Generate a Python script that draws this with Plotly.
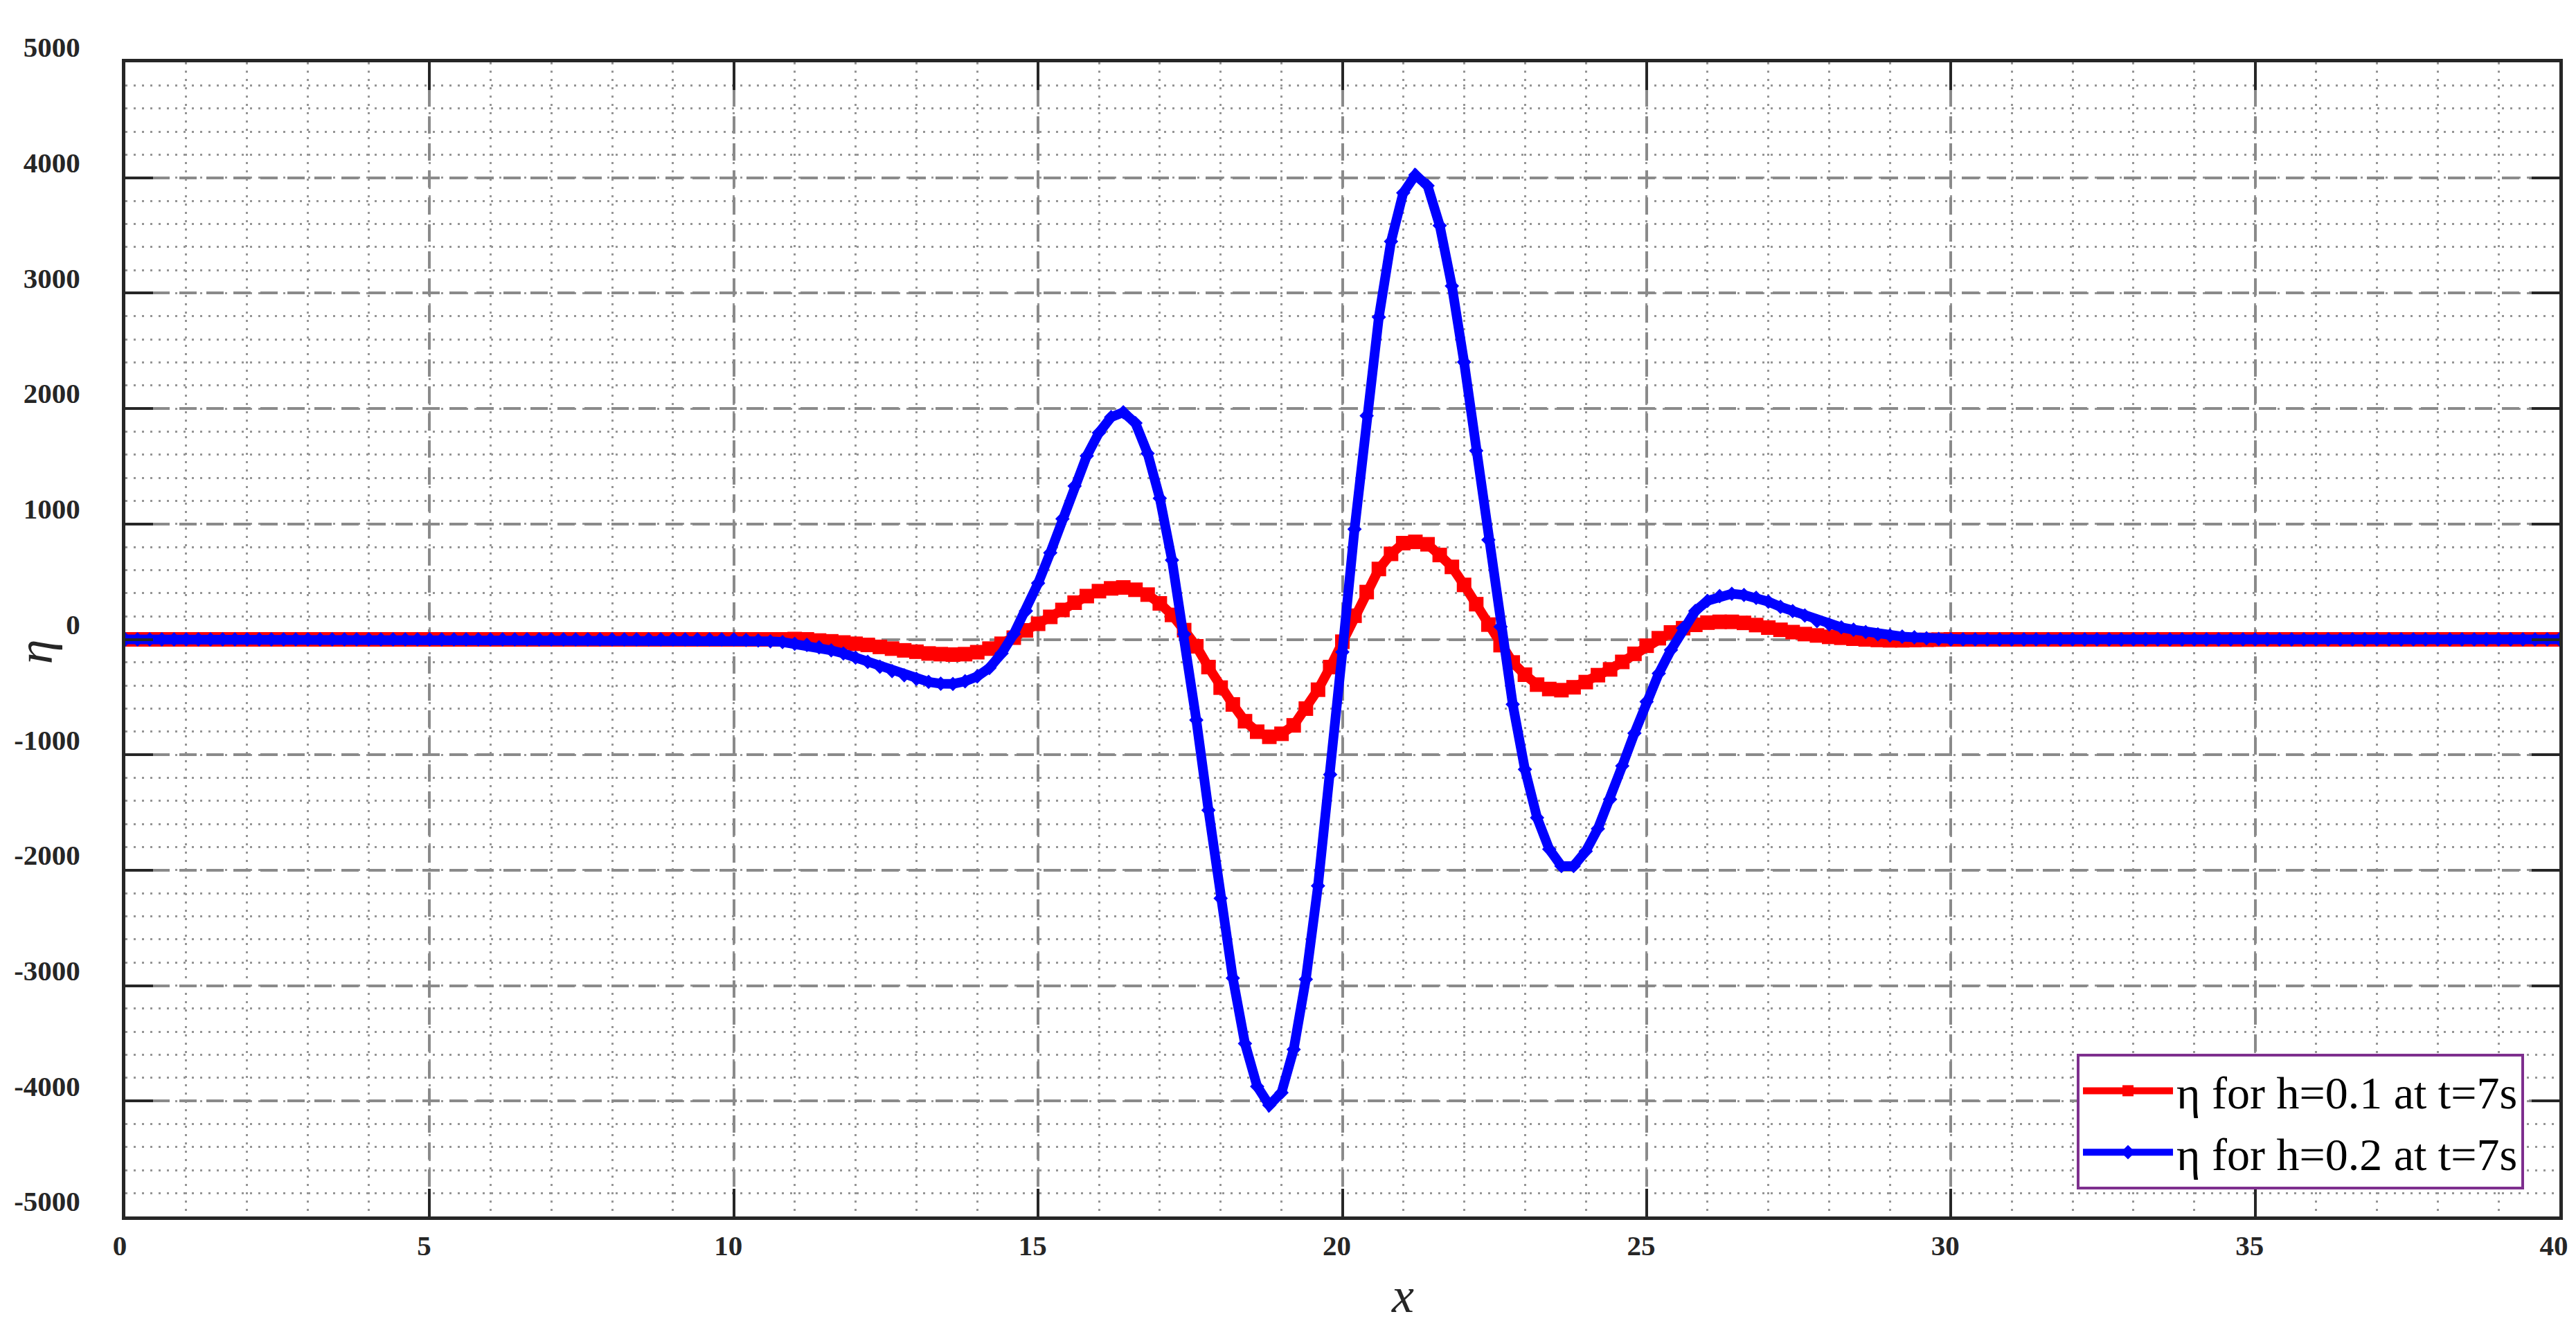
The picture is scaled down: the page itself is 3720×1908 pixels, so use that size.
import plotly.graph_objects as go

# sample positions along x (dx = 0.2, 0..40)
x = [round(0.2 * i, 1) for i in range(201)]

# flat parts of both curves, x = 0.0..9.8 and x = 30.0..40.0
flat_left = [0, 0, 0, 0, 0, 0, 0, 0, 0, 0,
             0, 0, 0, 0, 0, 0, 0, 0, 0, 0,
             0, 0, 0, 0, 0, 0, 0, 0, 0, 0,
             0, 0, 0, 0, 0, 0, 0, 0, 0, 0,
             0, 0, 0, 0, 0, 0, 0, 0, 0, 0]
flat_right = [0, 0, 0, 0, 0, 0, 0, 0, 0, 0,
              0, 0, 0, 0, 0, 0, 0, 0, 0, 0,
              0, 0, 0, 0, 0, 0, 0, 0, 0, 0,
              0, 0, 0, 0, 0, 0, 0, 0, 0, 0,
              0, 0, 0, 0, 0, 0, 0, 0, 0, 0, 0]

# eta for h=0.1, x = 10.0..29.8
eta_h01_mid = [0, 0, 0, 0, 0,
               3, 0, -10, -17, -27,
               -38, -48, -65, -80, -95,
               -107, -122, -128, -132, -128,
               -111, -80, -38, 15, 78,
               135, 195, 255, 318, 375,
               418, 442, 450, 430, 388,
               312, 212, 80, -60, -240,
               -418, -564, -709, -800, -844,
               -818, -745, -600, -436, -240,
               -20, 205, 410, 610, 741,
               834, 845, 824, 731, 628,
               472, 305, 128, -50, -200,
               -306, -392, -430, -440, -415,
               -370, -310, -260, -195, -125,
               -55, 10, 60, 97, 126,
               145, 152, 152, 143, 124,
               102, 83, 63, 46, 34,
               22, 14, 6, 0, -5,
               -8, -8, -6, -4, -2]

# eta for h=0.2, x = 10.0..29.8
eta_h02_mid = [0, -5, -10, -17, -23,
               -38, -48, -69, -95, -122,
               -158, -195, -237, -275, -311,
               -342, -368, -384, -386, -363,
               -321, -248, -122, 46, 246,
               487, 750, 1044, 1328, 1590,
               1790, 1926, 1968, 1874, 1611,
               1223, 687, 45, -699, -1480,
               -2244, -2935, -3502, -3873, -4036,
               -3927, -3553, -2945, -2135, -1171,
               -110, 955, 1938, 2793, 3448,
               3869, 4024, 3931, 3586, 3062,
               2403, 1634, 862, 110, -563,
               -1127, -1545, -1818, -1964, -1964,
               -1836, -1640, -1386, -1096, -813,
               -540, -295, -92, 98, 246,
               334, 375, 395, 385, 360,
               327, 282, 245, 207, 158,
               130, 104, 84, 64, 44,
               34, 24, 18, 10, 4]

eta_h01 = flat_left + eta_h01_mid + flat_right
eta_h02 = flat_left + eta_h02_mid + flat_right

names = ["η for h=0.1 at t=7s", "η for h=0.2 at t=7s"]
x_ticks = [0, 5, 10, 15, 20, 25, 30, 35, 40]
y_ticks = [-5000, -4000, -3000, -2000, -1000, 0, 1000, 2000, 3000, 4000, 5000]

fig = go.Figure()
fig.add_trace(go.Scatter(
    x=x, y=eta_h01, name=names[0], mode="lines+markers",
    line=dict(color="#ff0000", width=14),
    marker=dict(symbol="square", size=21, color="#ff0000"),
))
fig.add_trace(go.Scatter(
    x=x, y=eta_h02, name=names[1], mode="lines+markers",
    line=dict(color="#0000ff", width=14),
    marker=dict(symbol="diamond", size=16, color="#0000ff"),
))

axis_common = dict(
    showline=True, linecolor="#262626", linewidth=5, mirror="ticks",
    ticks="inside", ticklen=40, tickwidth=4, tickcolor="#262626",
    showgrid=True, gridcolor="#8a8a8a", gridwidth=4, griddash="25px,14px",
    zeroline=False,
    tickfont=dict(family="Liberation Serif", size=41, color="#262626", weight="bold"),
)

fig.update_xaxes(
    range=[0, 40], tickvals=x_ticks, ticktext=[str(v) for v in x_ticks],
    ticklabelshift=-8, ticklabelstandoff=2,
    minor=dict(dtick=1, showgrid=True, gridcolor="#959595", gridwidth=3,
               griddash="3px,9px", ticks=""),
    **axis_common,
)
fig.update_yaxes(
    range=[-5000, 5000], tickvals=y_ticks, ticktext=[str(v) for v in y_ticks],
    ticklabelshift=-22, ticklabelstandoff=52,
    minor=dict(dtick=200, showgrid=True, gridcolor="#959595", gridwidth=3,
               griddash="3px,9px", ticks=""),
    **axis_common,
)

# axis labels
fig.add_annotation(
    text="x", xref="paper", yref="paper", x=0.5247, y=-0.0684,
    showarrow=False, xanchor="center", yanchor="middle",
    font=dict(family="Liberation Serif", size=72, color="#262626", style="italic"),
)
fig.add_annotation(
    text="η", xref="paper", yref="paper", x=-0.0369, y=0.4895, textangle=-90,
    showarrow=False, xanchor="center", yanchor="middle",
    font=dict(family="Liberation Serif", size=72, color="#262626", style="italic"),
)

fig.update_layout(
    width=3720, height=1908,
    margin=dict(l=168, r=32, t=82, b=159),
    paper_bgcolor="white", plot_bgcolor="white",
    showlegend=True,
    legend=dict(
        x=0.9855, y=0.0234, xanchor="right", yanchor="bottom",
        bgcolor="white", bordercolor="#7e2f8e", borderwidth=4,
        font=dict(family="Liberation Serif", size=66, color="black"),
        itemwidth=130, tracegroupgap=0,
    ),
)

fig.write_html("out.html")
